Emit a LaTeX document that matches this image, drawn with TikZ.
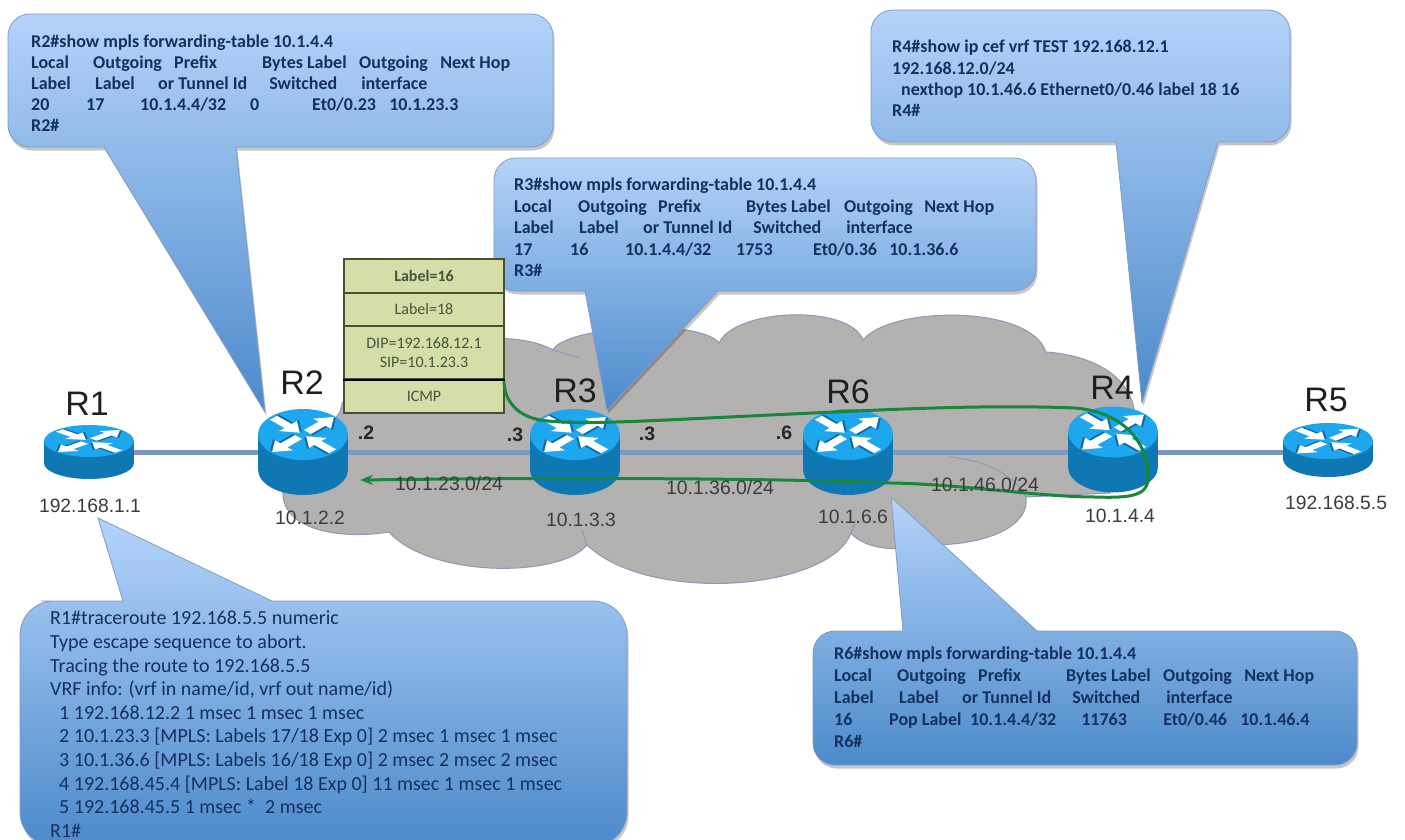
\documentclass[tikz,border=0pt]{standalone}
\usepackage{fontspec}
\setmainfont{Carlito}
\newfontfamily\arialf{Liberation Sans}
\usetikzlibrary{arrows.meta}
\definecolor{cloudfill}{HTML}{B4B1B1}
\definecolor{cloudline}{HTML}{8C9AB2}
\definecolor{linkblue}{HTML}{7E96C2}
\definecolor{routerside}{HTML}{0F78B2}
\definecolor{routertop}{HTML}{1EA6EE}
\definecolor{routermark}{HTML}{0E6AA6}
\definecolor{calltop}{HTML}{B4D3FA}
\definecolor{callbot}{HTML}{4C8ACB}
\definecolor{callline}{HTML}{7F9CC4}
\definecolor{calltext}{HTML}{15305E}
\definecolor{stackfill}{HTML}{D5DEA9}
\definecolor{stackline}{HTML}{46522F}
\definecolor{stacktext}{HTML}{46553A}
\definecolor{pathgreen}{HTML}{18873A}
\definecolor{labelgray}{HTML}{3C3C3C}
\tikzset{
  calltable/.style={anchor=north west,inner sep=0pt,align=left,text=calltext,font=\bfseries\fontsize{18}{#1}\selectfont},
  calltrace/.style={anchor=north west,inner sep=0pt,align=left,text=calltext,font=\fontsize{20}{23.6}\selectfont},
  routername/.style={inner sep=0pt,text=black!88,font=\arialf\fontsize{34}{34}\selectfont},
  addr/.style={inner sep=0pt,text=labelgray,font=\arialf\fontsize{19.3}{19.3}\selectfont},
  iface/.style={inner sep=0pt,text=black!85,font=\arialf\bfseries\fontsize{19.5}{19.5}\selectfont},
  subnet/.style={inner sep=0pt,text=labelgray,font=\arialf\fontsize{19.4}{19.4}\selectfont},
  stackcell/.style={draw=stackline,line width=1.6pt,fill=stackfill,minimum width=160pt,inner sep=0pt,align=center,text=stacktext,font=\fontsize{16}{18.5}\selectfont},
  link/.style={draw=linkblue,line width=5pt},
  pathline/.style={draw=pathgreen,line width=3pt,line cap=round},
}
\newcommand\cel[2]{\makebox[#1pt][l]{#2}}
\newcommand\callout[1]{%
  \fill[black,opacity=.22,shift={(1.5,3.5)}] #1;
  \shade[top color=calltop,bottom color=callbot,draw=callline,line width=.8pt] #1;
}
\newcommand\routerarrow[1]{%
  \begin{scope}[rotate=#1]
    \fill[routermark,shift={(0,.06)}] (.14,-.11)--(.6,-.11)--(.6,-.28)--(.97,0)--(.6,.28)--(.6,.11)--(.14,.11)--cycle;
    \fill[white] (.14,-.11)--(.6,-.11)--(.6,-.28)--(.97,0)--(.6,.28)--(.6,.11)--(.14,.11)--cycle;
  \end{scope}}
\newcommand\routerarrowin[1]{%
  \begin{scope}[rotate=#1]
    \fill[routermark,shift={(0,.06)}] (.1,0)--(.47,-.28)--(.47,-.11)--(.93,-.11)--(.93,.11)--(.47,.11)--(.47,.28)--cycle;
    \fill[white] (.1,0)--(.47,-.28)--(.47,-.11)--(.93,-.11)--(.93,.11)--(.47,.11)--(.47,.28)--cycle;
  \end{scope}}
\newcommand\router[4]{%
  \fill[routerside] (#1,#3) ellipse [x radius=45,y radius=#4];
  \fill[routerside] (#1-45,#2) rectangle (#1+45,#3);
  \fill[routertop] (#1,#2) ellipse [x radius=45,y radius=#4];
  \begin{scope}[shift={(#1,#2)},xscale=45,yscale=#4]
    \routerarrow{45}
    \routerarrow{225}
    \routerarrowin{135}
    \routerarrowin{-45}
  \end{scope}
}
\begin{document}
\begin{tikzpicture}[x=1pt,y=-1pt]
\path[use as bounding box,clip] (0,0) rectangle (1405,840);
\fill[white] (0,0) rectangle (1405,840);

% cloud
\fill[cloudfill,draw=cloudline,line width=1pt]
  (340,412) .. controls (350,350) and (500,320) .. (553,350)
  .. controls (565,326) and (700,318) .. (719,343)
  .. controls (735,308) and (850,304) .. (863,340)
  .. controls (890,306) and (1030,304) .. (1046,352)
  .. controls (1090,355) and (1135,375) .. (1135,420)
  -- (1110,493) -- (1026,497)
  .. controls (1030,525) and (990,545) .. (930,545)
  .. controls (900,552) and (865,550) .. (851,533)
  .. controls (830,590) and (650,605) .. (587,545)
  .. controls (560,578) and (430,578) .. (389,532)
  .. controls (340,540) and (280,530) .. (283,490)
  -- cycle;
\draw[cloudline,line width=1pt] (949,457) .. controls (985,460) and (1015,475) .. (1026,497);
\draw[cloudline,line width=1pt] (553,350) -- (580,358);
\draw[cloudline,line width=1pt] (587,545) -- (582,530);
\draw[cloudline,line width=1pt] (851,533) -- (856,520);

% callouts
\callout{(265,412) -- (104,147) [rounded corners=22pt] -- (60,147) -- (8,147) -- (8,14) -- (553,14) -- (553,147) -- (400,147) [sharp corners] -- (236,147) -- cycle}
\callout{(1142,403) -- (1116,142) [rounded corners=22pt] -- (1000,142) -- (871,142) -- (871,10) -- (1290,10) -- (1290,142) -- (1255,142) [sharp corners] -- (1218,142) -- cycle}
\callout{(607,410) -- (585,291) [rounded corners=22pt] -- (540,291) -- (494,291) -- (494,158) -- (1036,158) -- (1036,291) -- (900,291) [sharp corners] -- (718,291) -- cycle}
\callout{(891,497) -- (1037,631) [rounded corners=22pt] -- (1200,631) -- (1357,631) -- (1357,765) -- (813,765) -- (813,631) -- (860,631) [sharp corners] -- (903,631) -- cycle}
\callout{(98,518) -- (272,601) [rounded corners=34pt] -- (450,601) -- (627,601) -- (627,846) -- (20,846) -- (20,601) -- (75,601) [sharp corners] -- (123,601) -- cycle}

% links between routers
\coordinate (r1) at (89,452);
\coordinate (r2) at (303,452);
\coordinate (r3) at (575,452);
\coordinate (r6) at (848,452);
\coordinate (r4) at (1113,452);
\coordinate (r5) at (1328,452);
\draw[link] (r1) -- (r2);
\draw[link] (r2) -- (r3);
\draw[link] (r3) -- (r6);
\draw[link] (r6) -- (r4);
\draw[link] (r4) -- (r5);

% routers
\router{89}{441}{463}{16}
\router{303}{434.5}{469.5}{25.5}
\router{575}{434.5}{469.5}{25.5}
\router{848}{434.5}{469.5}{25.5}
\router{1113}{432}{467}{25.5}
\router{1328}{441}{459}{18}

% label stack
\node[stackcell,minimum height=34pt] (st1) at (424,276) {\bfseries Label=16};
\node[stackcell,minimum height=33pt] (st2) at (424,309.5) {Label=18};
\node[stackcell,minimum height=53pt] (st3) at (424,352.5) {DIP=192.168.12.1\\SIP=10.1.23.3};
\node[stackcell,minimum height=34pt] (st4) at (424,396) {ICMP};
\draw[black,line width=1.6pt] (st3.south west) -- (st3.south east);

% green path
\coordinate (pathstart) at (504,382);
\coordinate (pathend) at (360,480);
\draw[pathline,-{Stealth[length=13pt,width=10pt]}] (pathstart)
  .. controls (505,405) and (522,419) .. (548,421)
  .. controls (590,425) and (640,421) .. (834,412)
  .. controls (920,408) and (1000,405) .. (1075,408)
  .. controls (1125,412) and (1150,445) .. (1148,480)
  .. controls (1147,497) and (1125,498) .. (1095,497)
  .. controls (1040,497) and (960,484) .. (891,483)
  .. controls (800,479) and (600,477) .. (pathend);

% router names and addresses
\node[routername] (nR1) at (87,404) {R1};
\node[routername] (nR2) at (302,383) {R2};
\node[routername] (nR3) at (575,391) {R3};
\node[routername] (nR6) at (848,392) {R6};
\node[routername] (nR4) at (1112,388) {R4};
\node[routername] (nR5) at (1326,400) {R5};
\node[addr] (a1) at (90,506) {192.168.1.1};
\node[addr] (a2) at (310,518) {10.1.2.2};
\node[addr] (a3) at (581,520) {10.1.3.3};
\node[addr] (a6) at (853,517) {10.1.6.6};
\node[addr] (a4) at (1120,516) {10.1.4.4};
\node[addr] (a5) at (1336,503) {192.168.5.5};
\node[iface] (i2) at (366,433) {.2};
\node[iface] (i3a) at (515,435) {.3};
\node[iface] (i3b) at (647,434) {.3};
\node[iface] (i6) at (784,433) {.6};
\node[subnet] (s23) at (449,484) {10.1.23.0/24};
\node[subnet] (s36) at (720,488) {10.1.36.0/24};
\node[subnet] (s46) at (985,485) {10.1.46.0/24};

% callout texts
\node[calltable=20.8] (t2) at (31,35) {R2\#show mpls forwarding-table 10.1.4.4\\
\cel{62}{Local}\cel{81}{Outgoing}\cel{88}{Prefix}\cel{97}{Bytes Label}\cel{81}{Outgoing}Next Hop\\
\cel{64}{Label}\cel{63}{Label}\cel{111}{or Tunnel Id}\cel{92}{Switched}interface\\
\cel{55}{20}\cel{54}{17}\cel{110}{10.1.4.4/32}\cel{62}{0}\cel{77}{Et0/0.23}10.1.23.3\\
R2\#};
\node[calltable=21.5] (t3) at (514,178) {R3\#show mpls forwarding-table 10.1.4.4\\
\cel{64}{Local}\cel{80}{Outgoing}\cel{88}{Prefix}\cel{98}{Bytes Label}\cel{80}{Outgoing}Next Hop\\
\cel{65}{Label}\cel{64}{Label}\cel{110}{or Tunnel Id}\cel{93}{Switched}interface\\
\cel{56}{17}\cel{55}{16}\cel{111}{10.1.4.4/32}\cel{77}{1753}\cel{76}{Et0/0.36}10.1.36.6\\
R3\#};
\node[calltable=21.3] (t4) at (892,40) {R4\#show ip cef vrf TEST 192.168.12.1\\
192.168.12.0/24\\
\hspace*{9pt}nexthop 10.1.46.6 Ethernet0/0.46 label 18 16\\
R4\#};
\node[calltable=22] (t6) at (834,647) {R6\#show mpls forwarding-table 10.1.4.4\\
\cel{63}{Local}\cel{81}{Outgoing}\cel{88}{Prefix}\cel{97}{Bytes Label}\cel{81}{Outgoing}Next Hop\\
\cel{65}{Label}\cel{63}{Label}\cel{110}{or Tunnel Id}\cel{94}{Switched}interface\\
\cel{55}{16}\cel{81}{Pop Label}\cel{111}{10.1.4.4/32}\cel{82}{11763}\cel{77}{Et0/0.46}10.1.46.4\\
R6\#};
\node[calltrace] (t1) at (50,611) {R1\#traceroute 192.168.5.5 numeric\\
Type escape sequence to abort.\\
Tracing the route to 192.168.5.5\\
VRF info: (vrf in name/id, vrf out name/id)\\
\hspace*{9pt}1 192.168.12.2 1 msec 1 msec 1 msec\\
\hspace*{9pt}2 10.1.23.3 [MPLS: Labels 17/18 Exp 0] 2 msec 1 msec 1 msec\\
\hspace*{9pt}3 10.1.36.6 [MPLS: Labels 16/18 Exp 0] 2 msec 2 msec 2 msec\\
\hspace*{9pt}4 192.168.45.4 [MPLS: Label 18 Exp 0] 11 msec 1 msec 1 msec\\
\hspace*{9pt}5 192.168.45.5 1 msec * \ 2 msec\\
R1\#};
\end{tikzpicture}
\end{document}
